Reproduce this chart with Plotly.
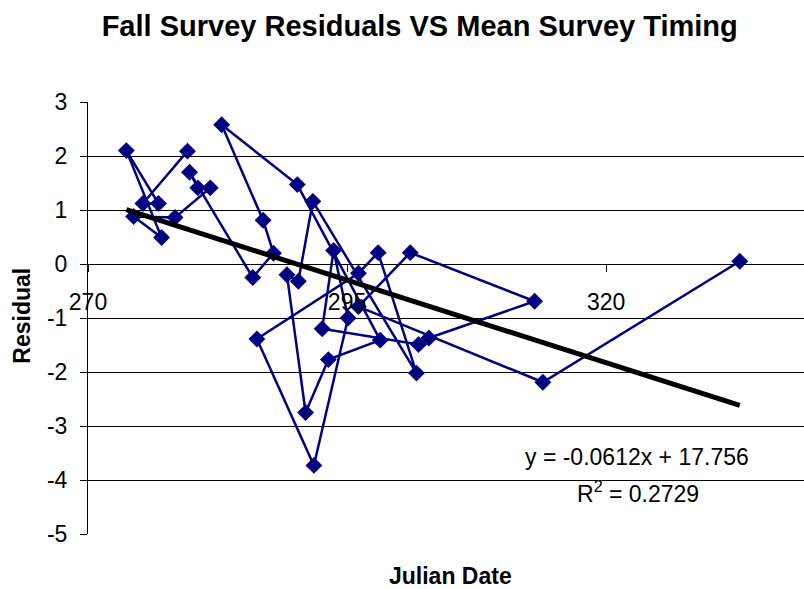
import plotly.graph_objects as go

# Mean survey timing (Julian date) and residual for each fall survey, in series order
julian_date = [279.6, 275.3, 276.8, 273.7, 277.1, 274.4, 278.4, 281.8, 280.6, 279.8,
               285.9, 287.9, 286.9, 282.9, 290.2, 298.2, 293.2, 291.0, 289.2, 290.3,
               291.7, 301.7, 298.0, 296.1, 286.3, 291.8, 295.1, 293.7, 292.6, 301.9,
               302.9, 313.1, 301.1, 296.1, 313.9, 332.9]
residual = [2.09, 1.12, 1.12, 2.10, 0.49, 0.88, 0.86, 1.41, 1.41, 1.70,
            -0.25, 0.20, 0.81, 2.58, 1.47, -1.41, -1.77, -2.75, -0.20, -0.32,
            1.16, -2.02, 0.21, -0.17, -1.39, -3.73, -1.00, 0.25, -1.20, -1.49,
            -1.37, -0.69, 0.21, -0.79, -2.19, 0.05]

# Linear trend line as reported
slope = -0.0612
intercept = 17.756
r_squared = 0.2729

x_ticks = [270, 295, 320]
y_ticks = [3, 2, 1, 0, -1, -2, -3, -4, -5]

FONT = "Liberation Sans, Arial, sans-serif"
NAVY = "#000080"

trend_x = [min(julian_date), max(julian_date)]
trend_y = [slope * x + intercept for x in trend_x]

fig = go.Figure()
fig.add_trace(go.Scatter(
    x=julian_date, y=residual, mode="lines+markers",
    line=dict(color=NAVY, width=2.5),
    marker=dict(symbol="diamond", size=13, color=NAVY),
    showlegend=False, hoverinfo="skip",
))
fig.add_trace(go.Scatter(
    x=trend_x, y=trend_y, mode="lines",
    line=dict(color="black", width=5),
    showlegend=False, hoverinfo="skip",
))

fig.update_layout(
    width=804, height=589,
    margin=dict(l=88, r=0, t=102, b=55),
    paper_bgcolor="white", plot_bgcolor="white",
    font=dict(family=FONT, size=23, color="black"),
    title=dict(
        text="<b>Fall Survey Residuals VS Mean Survey Timing</b>",
        font=dict(family=FONT, size=29, color="black"),
        x=0.522, xref="container", xanchor="center",
        y=1 - 26 / 589, yref="container", yanchor="middle",
    ),
    xaxis=dict(
        range=[270, 339.1], tickvals=x_ticks,
        ticktext=[str(v) for v in x_ticks],
        ticks="outside", ticklen=7, tickcolor="black",
        showgrid=False, zeroline=False, showline=False,
        anchor="free", position=5 / 8,
        ticklabelstandoff=10,
        tickfont=dict(family=FONT, size=23),
    ),
    yaxis=dict(
        range=[-5, 3], tickvals=y_ticks,
        ticktext=[str(v) for v in y_ticks],
        ticks="outside", ticklen=7, tickcolor="black",
        showgrid=True, gridcolor="black", gridwidth=1,
        zeroline=False, showline=True, linecolor="black", linewidth=1,
        ticklabelstandoff=8,
        tickfont=dict(family=FONT, size=23),
    ),
    annotations=[
        dict(text="<b>Residual</b>", xref="paper", yref="paper",
             x=-(88 - 22) / 716, y=(534.3 - 316) / 432, textangle=-90,
             showarrow=False, font=dict(family=FONT, size=23),
             xanchor="center", yanchor="middle"),
        dict(text="<b>Julian Date</b>", xref="paper", yref="paper",
             x=(450 - 88) / 716, y=-(576 - 534.3) / 432,
             showarrow=False, font=dict(family=FONT, size=23),
             xanchor="center", yanchor="middle"),
        dict(text=f"y = {slope}x + {intercept}", xref="paper", yref="paper",
             x=(637 - 88) / 716, y=(534.3 - 457) / 432,
             showarrow=False, font=dict(family=FONT, size=23),
             xanchor="center", yanchor="middle"),
        dict(text=f"R<sup>2</sup> = {r_squared}", xref="paper", yref="paper",
             x=(638 - 88) / 716, y=(534.3 - 492) / 432,
             showarrow=False, font=dict(family=FONT, size=23),
             xanchor="center", yanchor="middle"),
    ],
)

fig.write_html("out.html")
